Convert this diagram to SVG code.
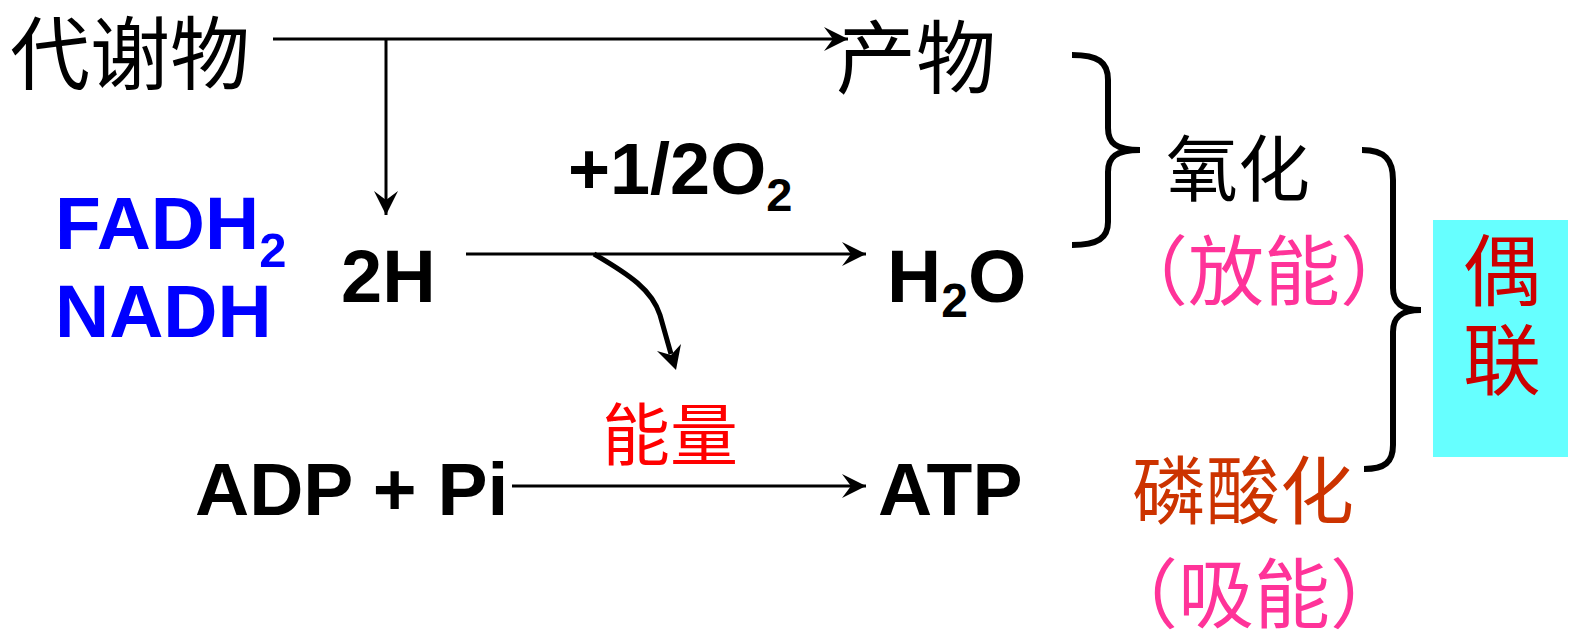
<svg xmlns="http://www.w3.org/2000/svg" width="1575" height="631" viewBox="0 0 1575 631">
<style>
.cjk{font-family:"Noto Sans CJK SC","Noto Sans CJK TC",sans-serif;}
.lat{font-family:"Liberation Sans",Arial,sans-serif;font-weight:bold;}
.ln{stroke:#000;stroke-width:3;fill:none;}
.br{stroke:#000;stroke-width:6;fill:none;stroke-linecap:butt;}
</style>
<defs>
<marker id="ah" markerUnits="userSpaceOnUse" markerWidth="26" markerHeight="26" viewBox="0 0 26 26" refX="24" refY="13" orient="auto">
<path d="M0,1 L24,13 L0,25 L9,13 z" fill="#000"/>
</marker>
</defs>
<rect x="0" y="0" width="1575" height="631" fill="#fff"/>

<g id="connectors">
<line class="ln" x1="273" y1="39" x2="848" y2="39" marker-end="url(#ah)"/>
<line class="ln" x1="386" y1="39" x2="386" y2="215" marker-end="url(#ah)"/>
<line class="ln" x1="466" y1="254" x2="866" y2="254" marker-end="url(#ah)"/>
<line class="ln" x1="512" y1="486" x2="866" y2="486" marker-end="url(#ah)"/>
<path d="M594,254 C630,275 652,290 660,315 L671,354" stroke="#000" stroke-width="5" fill="none"/>
<path d="M676,370 L657,351 L671,355 L681,344 z" fill="#000"/>
<path class="br" d="M1072,55 C1098,55 1108,62 1108,80 L1108,128 C1108,143 1116,150 1140,150 C1116,150 1108,157 1108,172 L1108,222 C1108,238 1098,245 1072,245"/>
<path class="br" d="M1362,150 C1385,150 1393,160 1393,180 L1393,288 C1393,302 1400,310 1421,310 C1400,310 1393,318 1393,332 L1393,445 C1393,462 1385,469 1364,469"/>
</g>

<g id="n-metabolite"><text class="cjk" x="10" y="83" font-size="80">代谢物</text></g>
<g id="n-product"><text class="cjk" x="836" y="87" font-size="80">产物</text></g>
<g id="n-carriers">
<text class="lat" x="55" y="249" font-size="75" fill="#0000FF">FADH<tspan font-size="49" dy="18">2</tspan></text>
<text class="lat" x="55" y="337" font-size="75" fill="#0000FF">NADH</text>
</g>
<g id="n-2h"><text class="lat" x="341" y="302" font-size="74">2H</text></g>
<g id="n-o2"><text class="lat" x="568" y="194" font-size="72">+1/2O<tspan font-size="47" dy="17">2</tspan></text></g>
<g id="n-h2o"><text class="lat" x="887" y="302" font-size="75">H<tspan font-size="48" dy="15">2</tspan><tspan dy="-15">O</tspan></text></g>
<g id="n-energy"><text class="cjk" x="602" y="460" font-size="68" fill="#FF0000">能量</text></g>
<g id="n-adp"><text class="lat" x="195" y="515" font-size="75">ADP + Pi</text></g>
<g id="n-atp"><text class="lat" x="878" y="515" font-size="75">ATP</text></g>
<g id="n-oxidation">
<text class="cjk" x="1166" y="195" font-size="72">氧化</text>
<text class="cjk" x="1264" y="299" font-size="76" fill="#FF3399" text-anchor="middle">（放能）</text>
</g>
<g id="n-phosph">
<text class="cjk" x="1132" y="518" font-size="74" fill="#CC3300">磷酸化</text>
<text class="cjk" x="1254" y="622" font-size="76" fill="#FF3399" text-anchor="middle">（吸能）</text>
</g>
<g id="n-coupling">
<rect x="1433" y="220" width="135" height="237" fill="#66FFFF"/>
<text class="cjk" x="1502" y="300" font-size="78" fill="#CC0000" text-anchor="middle">偶</text>
<text class="cjk" x="1502" y="389" font-size="78" fill="#CC0000" text-anchor="middle">联</text>
</g>
</svg>
